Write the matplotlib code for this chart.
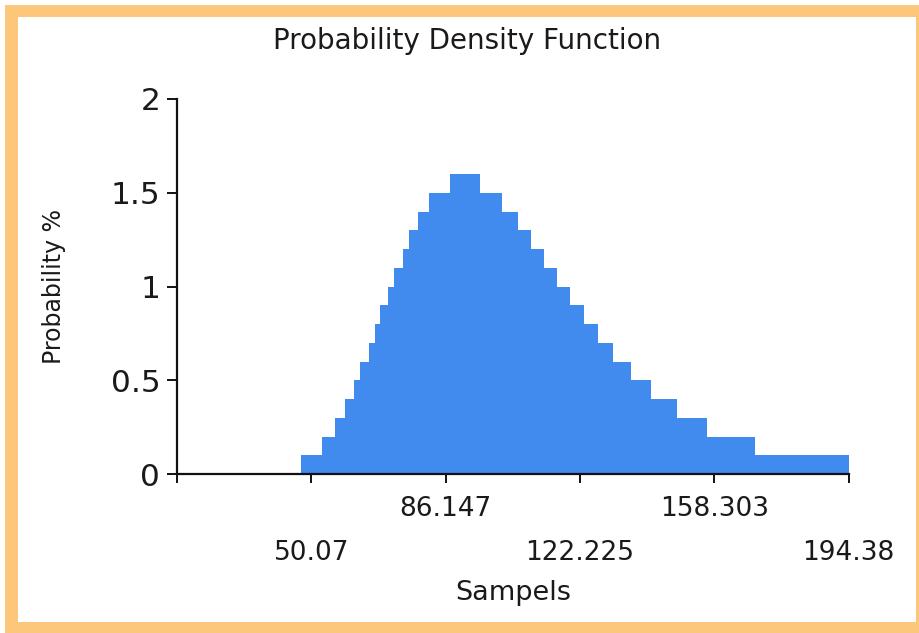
import matplotlib
matplotlib.use("Agg")
import matplotlib.pyplot as plt
from matplotlib.patches import Rectangle

# step edges (Sampels) and probability of each step
edges = [47.39, 52.94, 56.50, 59.18, 61.51, 63.12, 65.43, 67.04, 68.64, 70.79,
         72.40, 74.81, 76.26, 78.67, 81.78, 87.19, 95.42, 101.35, 105.69, 109.04,
         112.60, 116.01, 119.57, 123.32, 127.18, 131.20, 136.03, 141.20, 148.17,
         156.40, 169.16, 194.38]
probs = [0.1, 0.2, 0.3, 0.4, 0.5, 0.6, 0.7, 0.8, 0.9, 1.0, 1.1, 1.2, 1.3, 1.4, 1.5,
         1.6, 1.5, 1.4, 1.3, 1.2, 1.1, 1.0, 0.9, 0.8, 0.7, 0.6, 0.5, 0.4, 0.3, 0.2, 0.1]

x_min = 13.9925
upper_ticks = [86.147, 158.303]
upper_labels = ["86.147", "158.303"]
lower_ticks = [x_min, 50.07, 122.225, 194.38]
lower_labels = ["", "50.07", "122.225", "194.38"]
y_ticks = [0, 0.5, 1, 1.5, 2]
y_labels = ["0", "0.5", "1", "1.5", "2"]

plt.rcParams['font.family'] = ['DejaVu Sans']
text_col = '#1a1a1a'

fig = plt.figure(figsize=(9.2, 6.33), dpi=100)

# orange frame
fig.patches.append(Rectangle((5/920, 0), 915/920, 628/633, transform=fig.transFigure,
                             facecolor='#FDC77B', edgecolor='none', zorder=-2))
fig.patches.append(Rectangle((18/920, 11.5/633), 898.5/920, 604.5/633, transform=fig.transFigure,
                             facecolor='white', edgecolor='none', zorder=-1))

ax = fig.add_axes([177/920, 1 - 474/633, (848.6 - 177)/920, (474 - 99)/633])
ax.patch.set_alpha(0)

ax.stairs(probs, edges, fill=True, color='#418BEE', baseline=0)

ax.set_xlim(x_min, 194.38)
ax.set_ylim(0, 2)

for s in ['top', 'right']:
    ax.spines[s].set_visible(False)
for s in ['left', 'bottom']:
    ax.spines[s].set_linewidth(1.6)
    ax.spines[s].set_color('#111111')

ax.set_xticks(upper_ticks)
ax.set_xticklabels(upper_labels)
ax.set_xticks(lower_ticks, minor=True)
ax.set_xticklabels(lower_labels, minor=True)
ax.set_yticks(y_ticks)
ax.set_yticklabels(y_labels)

ax.tick_params(axis='x', which='major', length=6.5, width=1.4, pad=9,
               labelsize=19, labelcolor=text_col, color='#111111')
ax.tick_params(axis='x', which='minor', length=6.5, width=1.4, pad=41,
               labelsize=19, labelcolor=text_col, color='#111111')
ax.tick_params(axis='y', length=7, width=1.4, pad=5,
               labelsize=22.5, labelcolor=text_col, color='#111111')

ax.set_xlabel("Sampels", fontsize=19.5, color=text_col, labelpad=10)
ax.set_ylabel("Probability %", fontsize=17, color=text_col, labelpad=32)
fig.text(0.5 * (266 + 668) / 920, 1 - 41/633, "Probability Density Function",
         fontsize=20, color=text_col, ha='center', va='center')

fig.savefig("out.png", dpi=100)
